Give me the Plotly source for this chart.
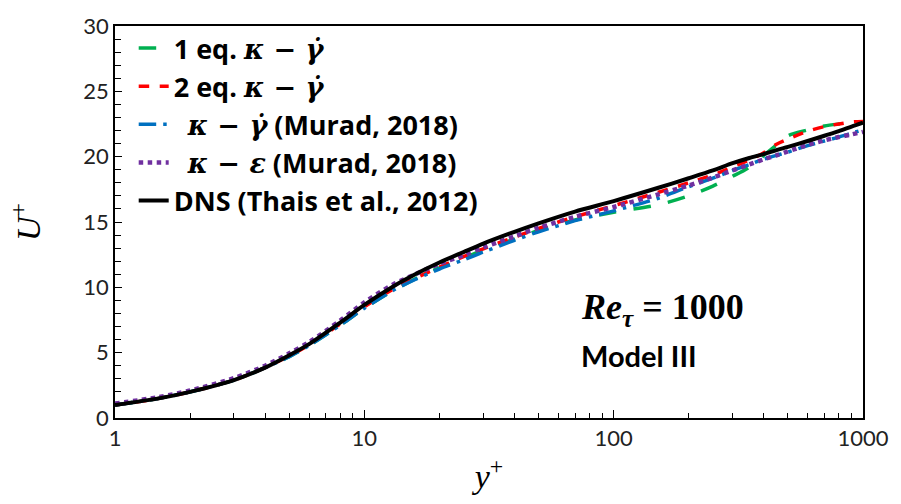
import plotly.graph_objects as go

# ---- data ----
y_plus = [1, 1.5, 2, 3, 4, 5, 6, 8, 10, 13, 16, 20, 25, 30, 40, 50, 70, 100, 150, 200,
          250, 300, 350, 400, 450, 500, 600, 700, 800, 900, 1000]

u_dns = [1.0, 1.5, 2.0, 2.9, 3.85, 4.8, 5.65, 7.3, 8.65, 10.05, 11.0, 11.9, 12.7, 13.35, 14.25, 14.9,
         15.8, 16.6, 17.6, 18.35, 18.95, 19.5, 19.9, 20.2, 20.5, 20.75, 21.2, 21.6, 21.95, 22.3, 22.6]
u_2eq = [1.0, 1.5, 2.0, 2.9, 3.85, 4.75, 5.6, 7.2, 8.5, 9.85, 10.7, 11.55, 12.35, 12.95, 13.85, 14.5,
         15.4, 16.25, 17.25, 18.0, 18.6, 19.2, 19.75, 20.3, 20.95, 21.35, 21.95, 22.3, 22.5, 22.65, 22.7]
u_1eq = [1.0, 1.5, 2.0, 2.9, 3.85, 4.7, 5.55, 7.1, 8.4, 9.75, 10.65, 11.5, 12.25, 12.85, 13.7, 14.35,
         15.15, 15.75, 16.3, 17.0, 17.75, 18.5, 19.2, 20.1, 20.9, 21.6, 22.05, 22.35, 22.5, 22.6, 22.6]
u_murad_kg = [1.0, 1.5, 2.0, 2.9, 3.85, 4.7, 5.55, 7.1, 8.4, 9.75, 10.6, 11.4, 12.1, 12.7, 13.6, 14.25,
              15.1, 15.85, 16.8, 17.7, 18.35, 18.95, 19.4, 19.8, 20.1, 20.35, 20.85, 21.2, 21.5, 21.8, 22.05]
u_murad_ke = [1.1, 1.6, 2.1, 3.05, 4.0, 4.95, 5.8, 7.45, 8.85, 10.2, 11.0, 11.8, 12.45, 13.05, 13.9, 14.55,
              15.4, 16.15, 17.1, 17.8, 18.4, 18.95, 19.4, 19.8, 20.1, 20.4, 20.9, 21.25, 21.5, 21.7, 21.9]

x_ticks = [1, 10, 100, 1000]
x_tick_text = ["1", "10", "100", "1000"]

MATH = "font-family:'DejaVu Serif';font-weight:bold;font-style:italic"
kg = f"<span style=\"{MATH}\">κ − γ̇</span>"
ke = f"<span style=\"{MATH}\">κ − ε</span>"

fig = go.Figure()
series = [
    ("1 eq. " + kg, u_1eq, "#00B050", "longdash", 3.5),
    ("2 eq. " + kg, u_2eq, "#FF0000", "dash", 3.5),
    ("  " + kg + " (Murad, 2018)", u_murad_kg, "#0070C0", "longdashdot", 3.5),
    ("  " + ke + " (Murad, 2018)", u_murad_ke, "#7030A0", "dot", 4.5),
    ("DNS (Thais et al., 2012)", u_dns, "#000000", "solid", 4),
]
for name, ys, color, dash, w in series:
    fig.add_trace(go.Scatter(x=y_plus, y=ys, mode="lines", name=name,
                             line=dict(color=color, dash=dash, width=w, shape="spline", smoothing=0.8)))

fig.update_layout(
    width=901, height=504,
    margin=dict(l=115, r=31, t=16, b=86),
    plot_bgcolor="white", paper_bgcolor="white",
    font=dict(family="Lato", color="#222222", size=22),
    showlegend=True,
    legend=dict(x=0.025, y=1.005, xanchor="left", yanchor="top",
                bgcolor="rgba(0,0,0,0)", font=dict(family="Open Sans", size=27, color="black", weight="bold"),
                itemwidth=30, tracegroupgap=0),
    xaxis=dict(type="log", range=[0, 3], tickvals=x_ticks, ticktext=x_tick_text,
               showline=True, linecolor="black", linewidth=1.5, mirror=True,
               ticks="inside", ticklen=8, tickcolor="black", showgrid=False, zeroline=False,
               tickfont=dict(size=22, color="#222222"),
               minor=dict(ticks="inside", ticklen=5, tickcolor="black", dtick="D1", showgrid=False),
               title=dict(text="<i>y</i><sup>+</sup>", font=dict(family="Liberation Serif", size=34, color="black"),
                          standoff=14)),
    yaxis=dict(range=[0, 30], dtick=5, showline=True, linecolor="black", linewidth=1.5, mirror=True,
               ticks="inside", ticklen=7, tickcolor="black", showgrid=False, zeroline=False,
               tickfont=dict(size=22, color="#222222"),
               minor=dict(ticks="inside", ticklen=6, tickcolor="black", dtick=1, showgrid=False),
               title=dict(text="<i>U</i><sup>+</sup>", font=dict(family="Liberation Serif", size=34, color="black"),
                          standoff=32)),
)

fig.add_annotation(xref="paper", yref="paper", x=(583 - 115) / 755, y=(418 - 307) / 402,
                   xanchor="left", yanchor="middle", showarrow=False,
                   text="<i><b>Re</b></i><sub><i><b>τ</b></i></sub><b> = 1000</b>",
                   font=dict(family="Liberation Serif", size=36, color="black"))
fig.add_annotation(xref="paper", yref="paper", x=(583 - 115) / 755, y=(418 - 354) / 402,
                   xanchor="left", yanchor="middle", showarrow=False,
                   text="<b>Model III</b>",
                   font=dict(family="Lato", size=29, color="black"))

fig.write_html("out.html")
